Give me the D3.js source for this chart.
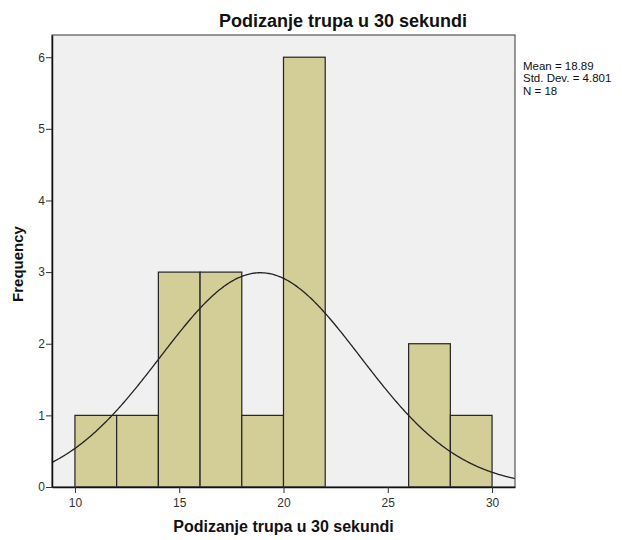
<!DOCTYPE html>
<html><head><meta charset="utf-8">
<script src="https://cdn.jsdelivr.net/npm/d3@7"></script>
<style>body{margin:0;background:#fff}svg{display:block}text{font-family:Arial,"Liberation Sans",sans-serif}</style>
</head><body>
<script>
const binStarts = [10,12,14,16,18,20,22,24,26,28];
const binWidth = 2;
const counts = [1,1,3,3,1,6,0,0,2,1];
const xTicks = [10,15,20,25,30];
const yTicks = [0,1,2,3,4,5,6];
const stats = ["Mean = 18.89","Std. Dev. = 4.801","N = 18"];
const mean = 18.89, sd = 4.801, n = 18;

const W=622,H=540;
const L=52,R=515,T=35,B=487;
const svg=d3.select("body").append("svg").attr("width",W).attr("height",H);
const x=d3.scaleLinear().domain([8.9,31.1]).range([L,R]);
const y=d3.scaleLinear().domain([0,6.31]).range([B,T]);

svg.append("rect").attr("x",L).attr("y",T).attr("width",R-L).attr("height",B-T).attr("fill","#f0f0f0");

const bins = binStarts.map((s,i)=>({s, c:counts[i]})).filter(d=>d.c>0);
svg.selectAll("rect.bar").data(bins).enter().append("rect").attr("class","bar")
 .attr("x",d=>x(d.s)).attr("width",d=>x(d.s+binWidth)-x(d.s))
 .attr("y",d=>y(d.c)).attr("height",d=>B-y(d.c))
 .attr("fill","#d3ce97").attr("stroke","#222").attr("stroke-width",1.2);

const pts=d3.range(8.9,31.1001,0.05).map(v=>[v, n*binWidth*Math.exp(-0.5*((v-mean)/sd)**2)/(sd*Math.sqrt(2*Math.PI))]);
svg.append("clipPath").attr("id","clp").append("rect").attr("x",L).attr("y",T).attr("width",R-L).attr("height",B-T);
svg.append("path").datum(pts).attr("clip-path","url(#clp)")
 .attr("d",d3.line().x(d=>x(d[0])).y(d=>y(d[1])).curve(d3.curveBasis))
 .attr("fill","none").attr("stroke","#222").attr("stroke-width",1.3);

svg.append("rect").attr("x",L).attr("y",T).attr("width",R-L).attr("height",B-T).attr("fill","none").attr("stroke","#555").attr("stroke-width",1.2);

const xa=svg.append("g").attr("transform",`translate(0,${B})`)
 .call(d3.axisBottom(x).tickValues(xTicks).tickSize(6).tickSizeOuter(0).tickFormat(d3.format("d")));
const ya=svg.append("g").attr("transform",`translate(${L},0)`)
 .call(d3.axisLeft(y).tickValues(yTicks).tickSize(6).tickSizeOuter(0).tickFormat(d3.format("d")));
[xa,ya].forEach(a=>{a.select(".domain").attr("stroke","#111").attr("stroke-width",1.5);
 a.selectAll(".tick line").attr("stroke","#333");
 a.selectAll(".tick text").attr("fill","#333").style("font-size","12px").style("font-family","Arial, 'Liberation Sans', sans-serif");});
xa.selectAll(".tick text").attr("dy","0.9em");
ya.selectAll(".tick text").attr("x",-7);

svg.append("text").attr("x",343).attr("y",27).attr("text-anchor","middle")
 .style("font-size","18px").style("font-weight","bold").attr("fill","#111").text("Podizanje trupa u 30 sekundi");
svg.append("text").attr("x",(L+R)/2).attr("y",532).attr("text-anchor","middle")
 .style("font-size","16px").style("font-weight","bold").attr("fill","#111").text("Podizanje trupa u 30 sekundi");
svg.append("text").attr("transform",`translate(23,${(T+B)/2+3}) rotate(-90)`).attr("text-anchor","middle")
 .style("font-size","15px").style("font-weight","bold").attr("fill","#111").text("Frequency");
svg.selectAll("text.st").data(stats).enter().append("text").attr("class","st")
 .attr("x",523).attr("y",(d,i)=>69.5+i*12.5).style("font-size","11.5px").attr("fill","#111").text(d=>d);
</script>
</body></html>
